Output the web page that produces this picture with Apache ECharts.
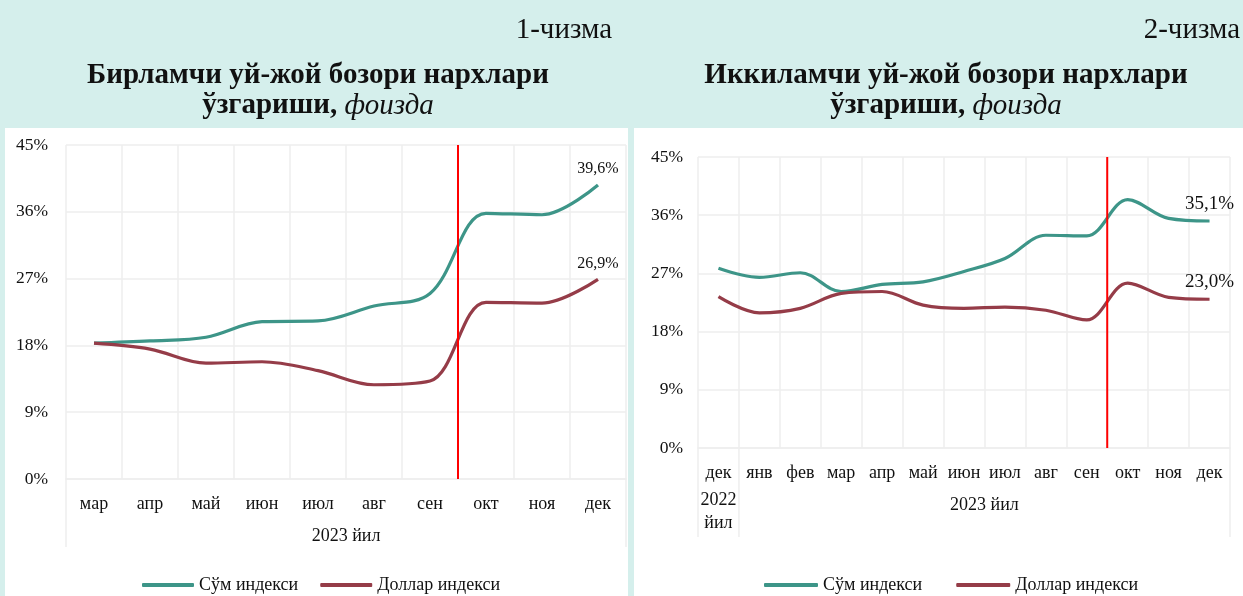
<!DOCTYPE html>
<html>
<head>
<meta charset="utf-8">
<script src="https://cdn.jsdelivr.net/npm/echarts@6/dist/echarts.min.js"></script>
<style>
html,body{margin:0;padding:0;background:#d5efec;}
#c{width:1243px;height:596px;}
</style>
</head>
<body>
<div id="c"></div>
<script>
// ---- data ----
const months1 = ['мар','апр','май','июн','июл','авг','сен','окт','ноя','дек'];
const sum1 = [18.3, 18.6, 19.1, 21.2, 21.3, 23.3, 25.0, 35.8, 35.6, 39.6];
const usd1 = [18.3, 17.5, 15.6, 15.8, 14.6, 12.7, 13.2, 23.8, 23.7, 26.9];

const months2 = ['дек','янв','фев','мар','апр','май','июн','июл','авг','сен','окт','ноя','дек'];
const sum2 = [27.8, 26.4, 27.1, 24.2, 25.3, 25.7, 27.3, 29.3, 32.9, 32.8, 38.4, 35.5, 35.1];
const usd2 = [23.4, 20.9, 21.6, 23.9, 24.2, 22.1, 21.6, 21.8, 21.3, 19.8, 25.5, 23.3, 23.0];

const yMin = 0, yMax = 45, yStep = 9;
const seriesNames = ['Сўм индекси', 'Доллар индекси'];
const redLine1 = 7;   // boundary between сен and окт (left chart)
const redLine2 = 10;  // boundary between сен and окт (right chart)
const titles = {
  n1: '1-чизма', n2: '2-чизма',
  t1: 'Бирламчи уй-жой бозори нархлари', t2: 'Иккиламчи уй-жой бозори нархлари',
  sub: 'ўзгариши,', subIt: 'фоизда'
};
const yearLabel = '2023 йил', prevYearLabel = '2022\nйил';

// ---- style ----
const FONT = '"Liberation Serif","Times New Roman",serif';
const GREEN = '#3d9588', RED = '#953c48', GRID = '#eeeeee';
const FS_AX = 18, FS_Y = 17.5, FS_LEG = 18, FS_T = 29;

function fmt(v){ return v.toFixed(1).replace('.', ',') + '%'; }
function withEndLabel(arr, fs){
  return arr.map((v, i) => i === arr.length - 1
    ? {value: v, label: {show: true, position: 'top', distance: 8, formatter: fmt(v),
        fontFamily: FONT, fontSize: fs, color: '#111'}}
    : v);
}

const chart = echarts.init(document.getElementById('c'));

const G1 = {left: 66, top: 145, width: 560, height: 334};
const G2 = {left: 698, top: 157, width: 532, height: 291};

function yAx(gi, margin){
  return {type: 'value', gridIndex: gi, min: yMin, max: yMax, interval: yStep,
    axisLabel: {formatter: '{value}%', fontFamily: FONT, fontSize: FS_Y, color: '#111', margin: margin},
    axisLine: {show: false}, axisTick: {show: false},
    splitLine: {lineStyle: {color: GRID, width: 1.5}}};
}
function xCat(gi, data){
  return {type: 'category', gridIndex: gi, data: data, boundaryGap: true,
    axisLabel: {fontFamily: FONT, fontSize: FS_AX, color: '#111', margin: 16, interval: 0},
    axisLine: {show: true, lineStyle: {color: GRID, width: 1.5}}, axisTick: {show: false},
    splitLine: {show: true, interval: 0, lineStyle: {color: GRID, width: 1.5}}};
}
function xHidden(gi, max){
  return {type: 'value', gridIndex: gi, min: 0, max: max, show: false, splitLine: {show: false}};
}
function lineS(name, data, color, xi, yi, fs){
  return {name: name, type: 'line', xAxisIndex: xi, yAxisIndex: yi, data: withEndLabel(data, fs),
    smooth: 0.35, symbol: 'circle', symbolSize: 0, showSymbol: true,
    lineStyle: {color: color, width: 3.2}, itemStyle: {color: color}, z: 3};
}
function redS(x, xi, yi){
  return {name: 'marker', type: 'line', xAxisIndex: xi, yAxisIndex: yi,
    data: [[x, yMin], [x, yMax]], symbol: 'none', silent: true,
    lineStyle: {color: '#ff0000', width: 2}, z: 4};
}
function titleText(t){
  return {text: t + '\n{b|' + titles.sub + ' }{i|' + titles.subIt + '}', top: 56, textAlign: 'center',
    textStyle: {fontFamily: FONT, fontSize: FS_T, fontWeight: 'bold', color: '#111', lineHeight: 30,
      rich: {b: {fontFamily: FONT, fontSize: FS_T, fontWeight: 'bold', color: '#111', lineHeight: 30},
             i: {fontFamily: FONT, fontSize: FS_T, fontStyle: 'italic', fontWeight: 'normal', color: '#111', lineHeight: 30}}}};
}

const option = {
  animation: false,
  backgroundColor: '#d5efec',
  title: [
    {text: titles.n1, right: 626, top: 11, textStyle: {fontFamily: FONT, fontSize: FS_T, fontWeight: 'normal', color: '#111'}},
    {text: titles.n2, right: -2, top: 11, textStyle: {fontFamily: FONT, fontSize: FS_T, fontWeight: 'normal', color: '#111'}},
    Object.assign(titleText(titles.t1), {left: 313}),
    Object.assign(titleText(titles.t2), {left: 941})
  ],
  legend: [
    {data: seriesNames, left: 137, top: 571, itemWidth: 52, itemHeight: 4, itemGap: 22, icon: 'roundRect',
      textStyle: {fontFamily: FONT, fontSize: FS_LEG, color: '#111'}},
    {data: seriesNames, left: 759, top: 571, itemWidth: 54, itemHeight: 4, itemGap: 34, icon: 'roundRect',
      textStyle: {fontFamily: FONT, fontSize: FS_LEG, color: '#111'}}
  ],
  grid: [
    Object.assign({containLabel: false}, G1),
    Object.assign({containLabel: false}, G2)
  ],
  xAxis: [
    Object.assign(xCat(0, months1), {name: yearLabel, nameLocation: 'middle', nameGap: 48,
      nameTextStyle: {fontFamily: FONT, fontSize: FS_AX, color: '#111'}}),
    xCat(1, months2),
    xHidden(0, months1.length),
    xHidden(1, months2.length)
  ],
  yAxis: [yAx(0, 18), yAx(1, 15)],
  series: [
    lineS(seriesNames[0], sum1, GREEN, 0, 0, 16),
    lineS(seriesNames[1], usd1, RED, 0, 0, 16),
    redS(redLine1, 2, 0),
    lineS(seriesNames[0], sum2, GREEN, 1, 1, 19),
    lineS(seriesNames[1], usd2, RED, 1, 1, 19),
    redS(redLine2, 3, 1)
  ]
};
chart.setOption(option);

// decorations: panels, outer category-boundary lines, second-level labels
function px(xi, v){ return chart.convertToPixel({xAxisIndex: xi}, v); }
const y0a = chart.convertToPixel({yAxisIndex: 0}, yMin);
const y0b = chart.convertToPixel({yAxisIndex: 1}, yMin);
const lineSt = {stroke: GRID, lineWidth: 1.5};
const graphics = [
  {type: 'rect', shape: {x: 5, y: 128, width: 623, height: 468}, style: {fill: '#ffffff'}, z: -10, silent: true},
  {type: 'rect', shape: {x: 634, y: 128, width: 609, height: 468}, style: {fill: '#ffffff'}, z: -10, silent: true}
];
[[2, 0, y0a, 68], [2, months1.length, y0a, 68], [3, 0, y0b, 89], [3, 1, y0b, 89], [3, months2.length, y0b, 89]].forEach(d => {
  const x = px(d[0], d[1]);
  graphics.push({type: 'line', shape: {x1: x, y1: d[2], x2: x, y2: d[2] + d[3]}, style: lineSt, z: 1, silent: true});
});
const cPrev = (px(3, 0) + px(3, 1)) / 2;
const cYear = (px(3, 1) + px(3, months2.length)) / 2;
graphics.push({type: 'text', x: cPrev, y: y0b + 41, style: {text: prevYearLabel, font: FS_AX + 'px ' + FONT, fill: '#111', textAlign: 'center', textVerticalAlign: 'top', lineHeight: 23}, z: 5});
graphics.push({type: 'text', x: cYear, y: y0b + 48, style: {text: yearLabel, font: FS_AX + 'px ' + FONT, fill: '#111', textAlign: 'center', textVerticalAlign: 'top'}, z: 5});
chart.setOption({graphic: graphics});
</script>
</body>
</html>
